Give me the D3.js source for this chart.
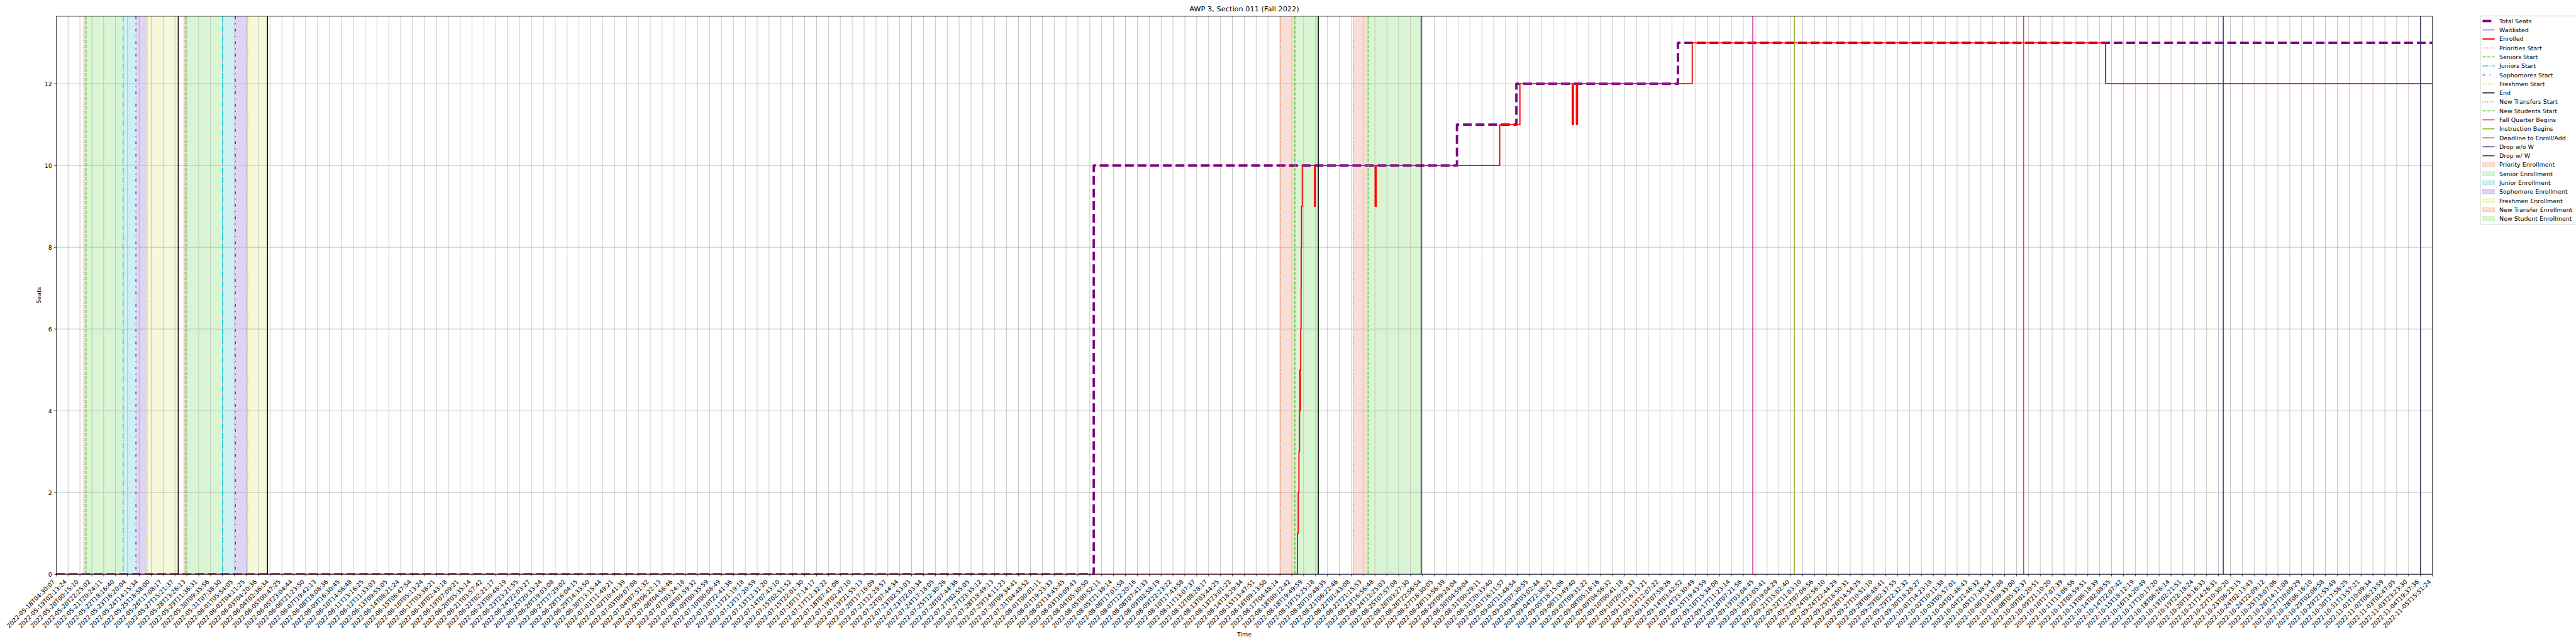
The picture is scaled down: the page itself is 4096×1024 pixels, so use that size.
<!DOCTYPE html>
<html><head><meta charset="utf-8">
<script src="https://cdn.jsdelivr.net/npm/d3@7"></script>
<style>body{margin:0;background:#fff}svg{display:block}text{font-family:"DejaVu Sans",sans-serif;fill:#000}</style>
</head><body><svg id="chart" width="4096" height="1024"></svg>
<script>
// ---------------- DATA ----------------
const tickLabels = [
"2022-05-18T04:30:07","2022-05-19T02:13:24","2022-05-20T00:15:10","2022-05-20T22:25:02","2022-05-21T20:24:11",
"2022-05-22T18:16:40","2022-05-23T16:20:04","2022-05-24T14:15:34","2022-05-25T18:58:00","2022-05-26T17:08:17",
"2022-05-27T15:21:37","2022-05-28T13:26:13","2022-05-29T11:36:31","2022-05-30T09:35:56","2022-05-31T07:38:30",
"2022-06-01T05:54:05","2022-06-02T04:11:25","2022-06-03T04:20:36","2022-06-04T02:36:34","2022-06-05T00:47:25",
"2022-06-05T23:04:44","2022-06-06T21:23:50","2022-06-07T19:42:13","2022-06-08T18:08:36","2022-06-09T16:30:45",
"2022-06-10T14:56:48","2022-06-11T13:16:25","2022-06-12T11:33:03","2022-06-13T09:55:05","2022-06-14T08:21:24",
"2022-06-15T06:47:54","2022-06-16T05:13:24","2022-06-17T03:38:21","2022-06-18T02:43:18","2022-06-19T07:09:21",
"2022-06-20T05:35:14","2022-06-21T03:57:42","2022-06-22T02:21:17","2022-06-23T00:48:19","2022-06-23T23:21:55",
"2022-06-24T22:03:27","2022-06-25T20:33:24","2022-06-26T19:03:08","2022-06-27T17:29:02","2022-06-28T16:04:15",
"2022-06-29T14:33:50","2022-06-30T13:15:44","2022-07-01T11:49:21","2022-07-02T10:41:39","2022-07-03T09:07:08",
"2022-07-04T07:51:32","2022-07-05T06:22:13","2022-07-06T04:56:46","2022-07-07T03:24:18","2022-07-08T01:59:32",
"2022-07-09T00:35:59","2022-07-10T00:08:49","2022-07-10T22:41:36","2022-07-11T21:19:18","2022-07-12T17:20:59",
"2022-07-13T12:31:20","2022-07-14T07:43:10","2022-07-15T02:51:52","2022-07-15T22:01:30","2022-07-16T17:14:17",
"2022-07-17T12:32:22","2022-07-18T07:41:06","2022-07-19T02:47:10","2022-07-19T21:55:13","2022-07-20T17:16:09",
"2022-07-21T12:28:57","2022-07-22T07:44:34","2022-07-23T02:53:03","2022-07-23T22:03:34","2022-07-24T17:18:05",
"2022-07-25T12:30:26","2022-07-26T07:44:36","2022-07-27T02:55:05","2022-07-27T23:35:12","2022-07-28T18:49:13",
"2022-07-29T14:11:23","2022-07-30T09:34:41","2022-07-31T04:48:52","2022-08-01T00:01:11","2022-08-01T19:23:33",
"2022-08-02T14:45:45","2022-08-03T10:09:43","2022-08-04T05:30:50","2022-08-05T00:52:11","2022-08-05T21:38:14",
"2022-08-06T17:01:58","2022-08-07T12:20:16","2022-08-08T07:41:33","2022-08-09T02:58:19","2022-08-09T22:23:22",
"2022-08-10T17:43:58","2022-08-11T13:07:37","2022-08-12T08:28:17","2022-08-13T03:44:25","2022-08-13T23:01:22",
"2022-08-14T18:29:34","2022-08-15T13:47:51","2022-08-16T09:13:50","2022-08-17T04:48:14","2022-08-18T00:12:42",
"2022-08-18T19:49:59","2022-08-19T15:25:18","2022-08-20T10:48:35","2022-08-21T06:22:46","2022-08-22T01:43:08",
"2022-08-22T21:15:53","2022-08-23T16:56:48","2022-08-24T12:25:03","2022-08-25T07:57:08","2022-08-26T03:27:30",
"2022-08-26T22:56:54","2022-08-27T18:30:05","2022-08-28T13:56:39","2022-08-29T09:24:04","2022-08-30T04:59:04",
"2022-08-31T00:29:11","2022-08-31T20:33:40","2022-09-01T16:11:57","2022-09-02T11:48:54","2022-09-03T07:30:55",
"2022-09-04T03:02:44","2022-09-04T22:38:23","2022-09-05T18:15:06","2022-09-06T13:49:40","2022-09-07T09:31:22",
"2022-09-08T05:18:16","2022-09-09T04:56:32","2022-09-10T00:41:18","2022-09-10T20:19:33","2022-09-11T16:13:21",
"2022-09-12T12:07:22","2022-09-13T07:59:26","2022-09-14T03:42:52","2022-09-14T23:30:49","2022-09-15T19:43:59",
"2022-09-16T15:34:08","2022-09-17T11:23:14","2022-09-18T07:21:56","2022-09-19T03:04:45","2022-09-19T23:05:41",
"2022-09-20T19:04:29","2022-09-21T15:02:40","2022-09-22T11:03:10","2022-09-23T07:06:56","2022-09-24T02:56:10",
"2022-09-24T22:44:29","2022-09-25T18:50:31","2022-09-26T14:54:25","2022-09-27T10:51:10","2022-09-28T06:48:41",
"2022-09-29T02:37:55","2022-09-29T22:32:32","2022-09-30T18:28:27","2022-10-01T14:23:18","2022-10-02T10:11:38",
"2022-10-03T05:57:01","2022-10-04T01:46:43","2022-10-04T21:46:32","2022-10-05T17:38:54","2022-10-06T13:37:08",
"2022-10-07T09:35:00","2022-10-08T05:32:37","2022-10-09T01:20:51","2022-10-09T21:10:20","2022-10-10T17:07:39",
"2022-10-11T13:06:56","2022-10-12T08:59:51","2022-10-13T06:18:39","2022-10-14T02:08:55","2022-10-14T22:07:42",
"2022-10-15T18:12:19","2022-10-16T14:20:49","2022-10-17T10:17:20","2022-10-18T06:26:14","2022-10-19T02:21:51",
"2022-10-19T22:18:24","2022-10-20T18:16:33","2022-10-21T14:26:31","2022-10-22T10:30:20","2022-10-23T06:23:15",
"2022-10-24T02:13:43","2022-10-24T22:09:12","2022-10-25T18:07:06","2022-10-26T14:11:08","2022-10-27T10:09:29",
"2022-10-28T06:16:10","2022-10-29T02:06:58","2022-10-29T21:55:49","2022-10-30T17:56:25","2022-10-31T13:57:21",
"2022-11-01T10:09:34","2022-11-02T06:23:59","2022-11-03T02:47:05","2022-11-03T23:23:30","2022-11-04T19:37:36",
"2022-11-05T15:51:24"
];
const yTickValues = [0, 2, 4, 6, 8, 10, 12];

// series: change points (position in tick-index units) and values (step after)
const seatsPos = [0, 87.33, 117.9, 122.9, 136.5, 200];
const seatsVal = [0, 10, 11, 12, 13, 13];

const waitPos = [0, 200];
const waitVal = [0, 0];

const enrolledPos = [0, 104.48, 104.54, 104.60, 104.65, 104.68, 104.70, 104.72, 104.75, 104.78, 104.79, 104.82, 104.88,
  105.91, 105.98, 111.01, 111.10, 121.5, 123.2, 127.6, 127.7, 127.95, 128.05, 137.7, 172.5, 200];
const enrolledVal = [0, 1, 2, 3, 4, 5, 4, 5, 6, 7, 8, 9, 10,
  9, 10, 9, 10, 11, 12, 11, 12, 11, 12, 13, 12, 12];

// vertical event lines
const eventNames = ["Priorities Start","Seniors Start","Juniors Start","Sophomores Start","Freshmen Start","End",
  "New Transfers Start","New Students Start","Fall Quarter Begins","Instruction Begins","Deadline to Enroll/Add",
  "Drop w/o W","Drop w/ W"];
const eventPositions = [
  [2.33, 10.76], [2.51, 10.92], [5.63, 14.0], [6.71, 15.08], [7.65, 16.12], [10.27, 17.78, 106.23, 114.89],
  [103.03, 109.17], [104.26, 110.42], [142.8], [146.3], [165.6], [182.4], [199.0]
];

// enrollment windows (shaded spans)
const spanNames = ["Priority Enrollment","Senior Enrollment","Junior Enrollment","Sophomore Enrollment",
  "Freshmen Enrollment","New Transfer Enrollment","New Student Enrollment"];
const spanRanges = [
  [[2.33, 2.51], [10.76, 10.92]],
  [[2.51, 5.63], [10.92, 14.0]],
  [[5.63, 6.71], [14.0, 15.08]],
  [[6.71, 7.65], [15.08, 16.12]],
  [[7.65, 10.27], [16.12, 17.78]],
  [[103.03, 104.26], [109.17, 110.42]],
  [[104.26, 106.23], [110.42, 114.89]]
];

// ---------------- STYLE ----------------
const S = 0.682;
const pt = 100 / 72 * S; // matplotlib point -> screen px
const M = {left: 131 * S, right: 5671 * S, top: 38 * S, bottom: 1339 * S};
const fs = 10 * pt;
const eventStyle = {
  "Priorities Start": {c: "#f26b3a", d: [1, 1.65], w: 1.5},
  "Seniors Start": {c: "#3ccc1e", d: [3.7, 1.6], w: 1.5},
  "Juniors Start": {c: "#00c8d6", d: [6.4, 1.6, 1, 1.6], w: 1.5},
  "Sophomores Start": {c: "#6a1fd6", d: [3, 5, 1, 5], w: 1.5},
  "Freshmen Start": {c: "#e2e22a", d: [3, 1, 1, 1], w: 1.5},
  "End": {c: "#000000", d: null, w: 1.5},
  "New Transfers Start": {c: "#f26b3a", d: [1, 1.65], w: 1.5},
  "New Students Start": {c: "#3ccc1e", d: [3.7, 1.6], w: 1.5},
  "Fall Quarter Begins": {c: "#c8209a", d: null, w: 1.5},
  "Instruction Begins": {c: "#8db11a", d: null, w: 1.5},
  "Deadline to Enroll/Add": {c: "#d4431f", d: null, w: 1.5},
  "Drop w/o W": {c: "#2e2a86", d: null, w: 1.5},
  "Drop w/ W": {c: "#2f3d5c", d: null, w: 1.5}
};
const spanFill = {
  "Priority Enrollment": "#f7dfd6", "Senior Enrollment": "#d9f5d3", "Junior Enrollment": "#cdf0f2",
  "Sophomore Enrollment": "#dfd4f5", "Freshmen Enrollment": "#f6f8da", "New Transfer Enrollment": "#f7dfd6",
  "New Student Enrollment": "#d9f5d3"
};
const spanEdge = {
  "Priority Enrollment": "#f3c9ba", "Senior Enrollment": "#c3efba", "Junior Enrollment": "#b0e8ec",
  "Sophomore Enrollment": "#cdbaf0", "Freshmen Enrollment": "#eff2bc", "New Transfer Enrollment": "#f3c9ba",
  "New Student Enrollment": "#c3efba"
};
const seriesStyle = {
  seats: {c: "#800080", w: 4 * pt, d: [3.7 * 4 * pt, 1.6 * 4 * pt]},
  wait: {c: "#0000ff", w: 1 * pt, d: null},
  enrolled: {c: "#ff0000", w: 2 * pt, d: null}
};

// ---------------- DRAW ----------------
const svg = d3.select("#chart");
const x = d3.scaleLinear().domain([0, tickLabels.length - 1]).range([M.left, M.right]);
const y = d3.scaleLinear().domain([0, 13.65]).range([M.bottom, M.top]);

svg.append("defs").append("clipPath").attr("id", "clip")
  .append("rect").attr("x", M.left).attr("y", M.top).attr("width", M.right - M.left).attr("height", M.bottom - M.top);

const plot = svg.append("g").attr("clip-path", "url(#clip)");

spanNames.forEach((n, i) => {
  plot.append("g").selectAll("rect").data(spanRanges[i]).join("rect")
    .attr("x", d => x(d[0])).attr("width", d => x(d[1]) - x(d[0]))
    .attr("y", M.top).attr("height", M.bottom - M.top)
    .attr("fill", spanFill[n]);
});

const gridW = 0.8 * pt;
plot.append("g").selectAll("line").data(d3.range(tickLabels.length)).join("line")
  .attr("x1", d => x(d)).attr("x2", d => x(d)).attr("y1", M.top).attr("y2", M.bottom)
  .attr("stroke", "#b0b0b0").attr("stroke-width", gridW);
plot.append("g").selectAll("line").data(yTickValues).join("line")
  .attr("x1", M.left).attr("x2", M.right).attr("y1", d => y(d)).attr("y2", d => y(d))
  .attr("stroke", "#b0b0b0").attr("stroke-width", gridW);

function drawSeries(pos, val, st) {
  const pts = pos.map((p, i) => [p, val[i]]);
  const line = d3.line().x(d => x(d[0])).y(d => y(d[1])).curve(d3.curveStepAfter);
  plot.append("path").attr("d", line(pts)).attr("fill", "none")
    .attr("stroke", st.c).attr("stroke-width", st.w)
    .attr("stroke-dasharray", st.d ? st.d.join(",") : null)
    .attr("stroke-linejoin", "round");
}
drawSeries(seatsPos, seatsVal, seriesStyle.seats);
drawSeries(waitPos, waitVal, seriesStyle.wait);
drawSeries(enrolledPos, enrolledVal, seriesStyle.enrolled);

eventNames.forEach((n, i) => {
  const st = eventStyle[n];
  const w = st.w * pt;
  plot.append("g").selectAll("line").data(eventPositions[i]).join("line")
    .attr("x1", d => x(d)).attr("x2", d => x(d)).attr("y1", M.top).attr("y2", M.bottom)
    .attr("stroke", st.c).attr("stroke-width", w)
    .attr("stroke-dasharray", st.d ? st.d.map(v => v * w).join(",") : null);
});

svg.append("rect").attr("x", M.left).attr("y", M.top).attr("width", M.right - M.left).attr("height", M.bottom - M.top)
  .attr("fill", "none").attr("stroke", "#000").attr("stroke-width", 0.8 * pt);

const tl = 3.5 * pt, pad = 3.5 * pt;
const xa = svg.append("g");
xa.selectAll("line").data(d3.range(tickLabels.length)).join("line")
  .attr("x1", d => x(d)).attr("x2", d => x(d)).attr("y1", M.bottom).attr("y2", M.bottom + tl)
  .attr("stroke", "#000").attr("stroke-width", 0.8 * pt);
xa.selectAll("text").data(tickLabels).join("text")
  .attr("transform", (d, i) => `translate(${x(i) - 1.6},${M.bottom + tl + pad + 6.0}) rotate(-45)`)
  .attr("text-anchor", "end").attr("font-size", fs).text(d => d);

const ya = svg.append("g");
ya.selectAll("line").data(yTickValues).join("line")
  .attr("x1", M.left - tl).attr("x2", M.left).attr("y1", d => y(d)).attr("y2", d => y(d))
  .attr("stroke", "#000").attr("stroke-width", 0.8 * pt);
ya.selectAll("text").data(yTickValues).join("text")
  .attr("x", M.left - tl - pad).attr("y", d => y(d)).attr("dy", "0.36em")
  .attr("text-anchor", "end").attr("font-size", fs).text(d => d);

svg.append("text").attr("x", (M.left + M.right) / 2).attr("y", 17.6).attr("text-anchor", "middle")
  .attr("font-size", 12 * pt).text("AWP 3, Section 011 (Fall 2022)");
svg.append("text").attr("x", (M.left + M.right) / 2).attr("y", 1011.5).attr("text-anchor", "middle")
  .attr("font-size", fs).text("Time");
svg.append("text").attr("transform", `translate(${94.7 * S},${(M.top + M.bottom) / 2}) rotate(-90)`)
  .attr("text-anchor", "middle").attr("font-size", fs).text("Seats");

const legendItems = [
  {n: "Total Seats", t: "line", st: seriesStyle.seats},
  {n: "Waitlisted", t: "line", st: seriesStyle.wait},
  {n: "Enrolled", t: "line", st: seriesStyle.enrolled}
].concat(eventNames.map(n => {
  const w = eventStyle[n].w * pt;
  return {n, t: "line", st: {c: eventStyle[n].c, w: w, d: eventStyle[n].d ? eventStyle[n].d.map(v => v * w) : null}};
})).concat(spanNames.map(n => ({n, t: "patch"})));

const lg = svg.append("g");
const lgX = 5783 * S, lgY = 37 * S, rowH = 20.95 * S, firstRow = 49 * S;
lg.append("rect").attr("x", lgX).attr("y", lgY).attr("width", 4110 - lgX).attr("height", 522.6 * S - lgY)
  .attr("rx", 2.8 * S).attr("fill", "#fff").attr("fill-opacity", 0.8).attr("stroke", "#cccccc").attr("stroke-width", 1 * pt);
const hx0 = 5788 * S, hx1 = 5816 * S, tx = 5827 * S;
legendItems.forEach((it, i) => {
  const cy = firstRow + i * rowH;
  if (it.t === "line") {
    lg.append("line").attr("x1", hx0).attr("x2", hx1).attr("y1", cy).attr("y2", cy)
      .attr("stroke", it.st.c).attr("stroke-width", it.st.w)
      .attr("stroke-dasharray", it.st.d ? it.st.d.join(",") : null);
  } else {
    const ph = 0.7 * fs;
    lg.append("rect").attr("x", hx0).attr("y", cy - ph / 2).attr("width", hx1 - hx0).attr("height", ph)
      .attr("fill", spanFill[it.n]).attr("stroke", spanEdge[it.n]).attr("stroke-width", 1 * pt);
  }
  lg.append("text").attr("x", tx).attr("y", cy).attr("dy", "0.36em").attr("font-size", fs).text(it.n);
});
</script>
</body></html>
